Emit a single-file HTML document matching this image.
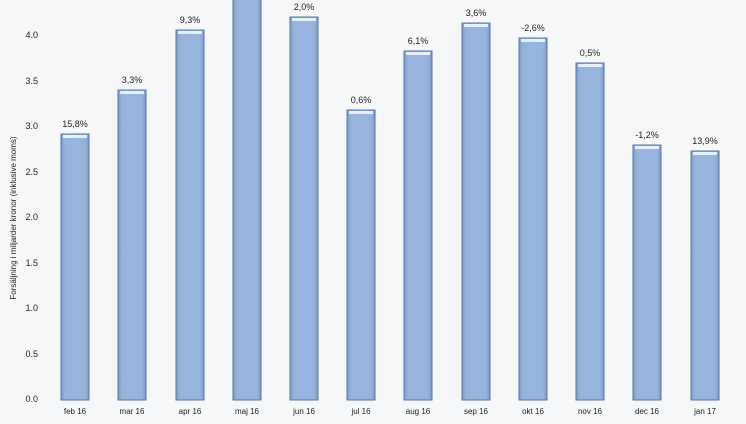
<!DOCTYPE html>
<html><head><style>
body{margin:0;width:746px;height:419px;overflow:hidden;background:#f6f7f9;font-family:"Liberation Sans",sans-serif;}
</style></head><body>
<svg width="746" height="419" xmlns="http://www.w3.org/2000/svg">
<defs>
<linearGradient id="g" x1="0" x2="1" y1="0" y2="0">
<stop offset="0" stop-color="#7f9ccb"/><stop offset="0.15" stop-color="#97b4dc"/><stop offset="0.85" stop-color="#97b4dc"/><stop offset="1" stop-color="#7f9ccb"/>
</linearGradient>
</defs>
<g font-size="9" fill="#222" text-anchor="end">
<text x="38" y="402">0.0</text><text x="38" y="357">0.5</text><text x="38" y="311">1.0</text><text x="38" y="266">1.5</text><text x="38" y="220">2.0</text><text x="38" y="175">2.5</text><text x="38" y="129">3.0</text><text x="38" y="84">3.5</text><text x="38" y="38">4.0</text>
</g>
<text transform="translate(16,218) rotate(-90)" font-size="8" text-anchor="middle" fill="#222">Forsäljning i miljarder kronor (inklusive moms)</text>
<g id="bars" stroke="#5a76a0" stroke-width="1" fill="url(#g)">
<rect x="61" y="134" width="28" height="266"/>
<rect x="118" y="90" width="28" height="310"/>
<rect x="176" y="30" width="28" height="370"/>
<rect x="233" y="-5" width="28" height="405"/>
<rect x="290" y="17" width="28" height="383"/>
<rect x="347" y="110" width="28" height="290"/>
<rect x="404" y="51" width="28" height="349"/>
<rect x="462" y="23" width="28" height="377"/>
<rect x="519" y="38" width="28" height="362"/>
<rect x="576" y="63" width="28" height="337"/>
<rect x="633" y="145" width="28" height="255"/>
<rect x="691" y="151" width="28" height="249"/>
</g>
<g fill="#e4f0fb">
<rect x="63" y="135" width="24" height="3"/><rect x="120" y="91" width="24" height="3"/><rect x="178" y="31" width="24" height="3"/><rect x="292" y="18" width="24" height="3"/><rect x="349" y="111" width="24" height="3"/><rect x="406" y="52" width="24" height="3"/><rect x="464" y="24" width="24" height="3"/><rect x="521" y="39" width="24" height="3"/><rect x="578" y="64" width="24" height="3"/><rect x="635" y="146" width="24" height="3"/><rect x="693" y="152" width="24" height="3"/>
</g>
<g font-size="9" fill="#222" text-anchor="middle">
<text x="75" y="127">15,8%</text><text x="132" y="83">3,3%</text><text x="190" y="23">9,3%</text><text x="304" y="10">2,0%</text><text x="361" y="103">0,6%</text><text x="418" y="44">6,1%</text><text x="476" y="16">3,6%</text><text x="533" y="31">-2,6%</text><text x="590" y="56">0,5%</text><text x="647" y="138">-1,2%</text><text x="705" y="144">13,9%</text>
</g>
<g font-size="8" fill="#222" text-anchor="middle">
<text x="75" y="414">feb 16</text><text x="132" y="414">mar 16</text><text x="190" y="414">apr 16</text><text x="247" y="414">maj 16</text><text x="304" y="414">jun 16</text><text x="361" y="414">jul 16</text><text x="418" y="414">aug 16</text><text x="476" y="414">sep 16</text><text x="533" y="414">okt 16</text><text x="590" y="414">nov 16</text><text x="647" y="414">dec 16</text><text x="705" y="414">jan 17</text>
</g>
</svg>
</body></html>
